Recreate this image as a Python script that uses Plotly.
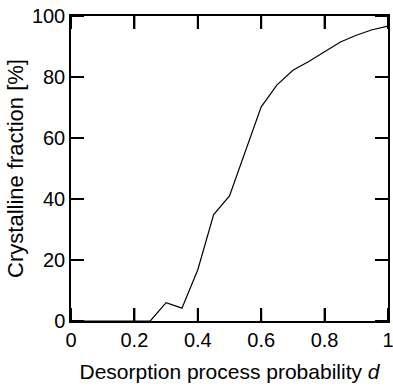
import plotly.graph_objects as go

d_values = [0.0, 0.05, 0.1, 0.15, 0.2, 0.25, 0.3, 0.35, 0.4, 0.45, 0.5, 0.6, 0.65, 0.7, 0.75, 0.8, 0.85, 0.9, 0.95, 1.0]
crystalline_pct = [0, 0, 0, 0, 0, 0, 6.0, 4.2, 16.8, 34.9, 41.0, 70.2, 77.4, 82.2, 85.1, 88.2, 91.5, 93.7, 95.5, 96.7]

x_tickvals = [0, 0.2, 0.4, 0.6, 0.8, 1.0]
x_ticktext = ["0", "0.2", "0.4", "0.6", "0.8", "1"]
y_tickvals = [0, 20, 40, 60, 80, 100]

FONT = "Liberation Sans, Arial, sans-serif"
W, H = 393, 387
ML, MR, MT, MB = 71, 5, 16, 66
TICK_LEN = 13
TICK_W = 2
X_RANGE = [0, 1]
Y_RANGE = [0, 100]

fig = go.Figure()
fig.add_trace(go.Scatter(x=d_values, y=crystalline_pct, mode="lines",
                         line=dict(color="black", width=1.2), showlegend=False,
                         cliponaxis=False, hoverinfo="skip"))

# inward tick marks on all four sides, built from the tick value lists
plot_w = W - ML - MR
plot_h = H - MT - MB
dy = TICK_LEN / plot_h * (Y_RANGE[1] - Y_RANGE[0])
dx = TICK_LEN / plot_w * (X_RANGE[1] - X_RANGE[0])
for v in x_tickvals:
    for y0, y1 in [(Y_RANGE[0], Y_RANGE[0] + dy), (Y_RANGE[1] - dy, Y_RANGE[1])]:
        fig.add_trace(go.Scatter(x=[v, v], y=[y0, y1], mode="lines",
                                 line=dict(color="black", width=TICK_W),
                                 showlegend=False, cliponaxis=False, hoverinfo="skip"))
for v in y_tickvals:
    for x0, x1 in [(X_RANGE[0], X_RANGE[0] + dx), (X_RANGE[1] - dx, X_RANGE[1])]:
        fig.add_trace(go.Scatter(x=[x0, x1], y=[v, v], mode="lines",
                                 line=dict(color="black", width=TICK_W),
                                 showlegend=False, cliponaxis=False, hoverinfo="skip"))

axis_common = dict(
    showgrid=False, zeroline=False, showline=True, linecolor="black", linewidth=1.5,
    mirror="allticks", ticks="inside", ticklen=TICK_LEN, tickwidth=TICK_W, tickcolor="#000000",
    ticklabeloverflow="allow", layer="above traces",
    tickfont=dict(family=FONT, size=20, color="black"), automargin=False,
)

fig.update_layout(
    width=W, height=H,
    margin=dict(l=ML, r=MR, t=MT, b=MB, autoexpand=False),
    paper_bgcolor="white", plot_bgcolor="white",
    xaxis=dict(range=X_RANGE, tickvals=x_tickvals, ticktext=x_ticktext,
               title=dict(text="Desorption process probability <i>d</i>",
                          font=dict(family=FONT, size=21, color="black"), standoff=15),
               **axis_common),
    yaxis=dict(range=Y_RANGE, tickvals=y_tickvals,
               title=dict(text="Crystalline fraction [%]",
                          font=dict(family=FONT, size=22, color="black"), standoff=2),
               **axis_common),
)

fig.write_html("out.html", config={"displayModeBar": False},
               post_script="document.body.style.margin='0';")
